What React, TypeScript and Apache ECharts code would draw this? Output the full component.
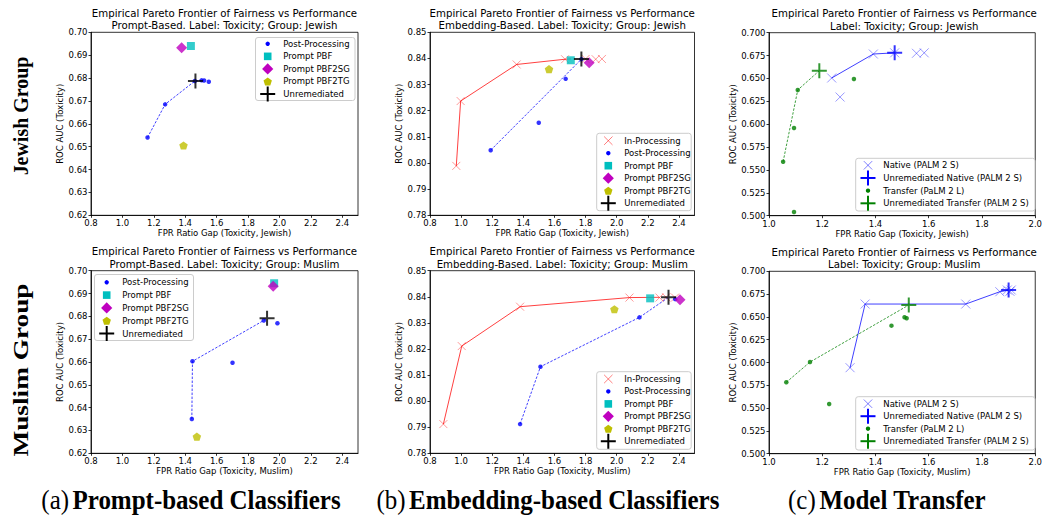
import React, { useEffect, useRef } from "react";
import * as echarts from "echarts";

// ---------------- Data ----------------
const xTicksAB = [0.8, 1.0, 1.2, 1.4, 1.6, 1.8, 2.0, 2.2, 2.4];
const xTicksC = [1.0, 1.2, 1.4, 1.6, 1.8, 2.0];
const yTicksA = [0.62, 0.63, 0.64, 0.65, 0.66, 0.67, 0.68, 0.69, 0.7];
const yTicksB = [0.78, 0.79, 0.8, 0.81, 0.82, 0.83, 0.84, 0.85];
const yTicksC = [0.5, 0.525, 0.55, 0.575, 0.6, 0.625, 0.65, 0.675, 0.7];

const titleLine1 = "Empirical Pareto Frontier of Fairness vs Performance";
const titleLine2 = [
  "Prompt-Based. Label: Toxicity; Group: Jewish",
  "Embedding-Based. Label: Toxicity; Group: Jewish",
  "Label: Toxicity; Group: Jewish",
  "Prompt-Based. Label: Toxicity; Group: Muslim",
  "Embedding-Based. Label: Toxicity; Group: Muslim",
  "Label: Toxicity; Group: Muslim",
];
const xNames = [
  "FPR Ratio Gap (Toxicity, Jewish)",
  "FPR Ratio Gap (Toxicity, Jewish)",
  "FPR Ratio Gap (Toxicity, Jewish)",
  "FPR Ratio Gap (Toxicity, Muslim)",
  "FPR Ratio Gap (Toxicity, Muslim)",
  "FPR Ratio Gap (Toxicity, Muslim)",
];
const yName = "ROC AUC (Toxicity)";
const rowLabels = ["Jewish Group", "Muslim Group"];
const captionTags = ["(a)", "(b)", "(c)"];
const captionTexts = ["Prompt-based Classifiers", "Embedding-based Classifiers", "Model Transfer"];

// (a) Prompt-based, Jewish
const promptJewPost = [[1.16, 0.654], [1.272, 0.6685], [1.461, 0.6787], [1.504, 0.679], [1.52, 0.6789], [1.55, 0.6784]];
const promptJewPostFrontier = [[1.16, 0.654], [1.272, 0.6685], [1.461, 0.6787], [1.504, 0.679]];
const promptJewPBF = [[1.436, 0.694]];
const promptJewPBF2SG = [[1.377, 0.6932]];
const promptJewPBF2TG = [[1.389, 0.6505]];
const promptJewUnrem = [[1.465, 0.6787]];

// (a) Prompt-based, Muslim
const promptMusPost = [[1.442, 0.635], [1.446, 0.6603], [1.701, 0.6597], [1.9, 0.6782], [1.987, 0.677]];
const promptMusPostFrontier = [[1.442, 0.635], [1.446, 0.6603], [1.9, 0.6782], [1.921, 0.6792]];
const promptMusPBF = [[1.966, 0.6945]];
const promptMusPBF2SG = [[1.96, 0.6932]];
const promptMusPBF2TG = [[1.474, 0.6273]];
const promptMusUnrem = [[1.921, 0.6792]];

// (b) Embedding-based, Jewish
const embJewIn = [[0.969, 0.7989], [0.997, 0.8237], [1.357, 0.8377], [1.668, 0.8397], [1.8, 0.8398], [1.865, 0.8397], [1.905, 0.8398]];
const embJewInFrontier = [[0.969, 0.7989], [0.997, 0.8237], [1.357, 0.8377], [1.668, 0.8397], [1.705, 0.8398]];
const embJewPost = [[1.19, 0.8049], [1.499, 0.8154], [1.672, 0.8322], [1.773, 0.8397]];
const embJewPostFrontier = [[1.19, 0.8049], [1.773, 0.8397]];
const embJewPBF = [[1.705, 0.8393]];
const embJewPBF2SG = [[1.823, 0.8384]];
const embJewPBF2TG = [[1.565, 0.8359]];
const embJewUnrem = [[1.773, 0.8398]];

// (b) Embedding-based, Muslim
const embMusIn = [[0.886, 0.7912], [1.004, 0.8211], [1.379, 0.8362], [2.082, 0.8397], [2.275, 0.8397], [2.318, 0.8398], [2.375, 0.8397]];
const embMusInFrontier = [[0.886, 0.7912], [1.004, 0.8211], [1.379, 0.8362], [2.082, 0.8397], [2.275, 0.8398]];
const embMusPost = [[1.379, 0.7912], [1.51, 0.8132], [2.146, 0.8321], [2.376, 0.8391]];
const embMusPostFrontier = [[1.379, 0.7912], [1.51, 0.8132], [2.146, 0.8321], [2.333, 0.8398]];
const embMusPBF = [[2.215, 0.8394]];
const embMusPBF2SG = [[2.407, 0.8389]];
const embMusPBF2TG = [[1.985, 0.8352]];
const embMusUnrem = [[2.333, 0.8398]];

// (c) Model transfer, Jewish
const transJewNative = [[1.2355, 0.6505], [1.267, 0.6297], [1.392, 0.6767], [1.472, 0.678], [1.554, 0.6775], [1.583, 0.678]];
const transJewNativeFrontier = [[1.2355, 0.6505], [1.392, 0.6767], [1.472, 0.678]];
const transJewTransfer = [[1.053, 0.559], [1.094, 0.5958], [1.108, 0.6374], [1.094, 0.504], [1.319, 0.6494]];
const transJewTransferFrontier = [[1.053, 0.559], [1.108, 0.6374], [1.189, 0.6585]];
const transJewUnremNative = [[1.472, 0.678]];
const transJewUnremTransfer = [[1.189, 0.6585]];

// (c) Model transfer, Muslim
const transMusNative = [[1.3045, 0.5943], [1.361, 0.6641], [1.739, 0.6641], [1.867, 0.6776], [1.895, 0.6795], [1.905, 0.678], [1.91, 0.6795]];
const transMusNativeFrontier = [[1.3045, 0.5943], [1.361, 0.6641], [1.739, 0.6641], [1.867, 0.6776], [1.9, 0.6793]];
const transMusTransfer = [[1.065, 0.5783], [1.154, 0.6005], [1.226, 0.5545], [1.46, 0.6404], [1.509, 0.6496], [1.517, 0.6485]];
const transMusTransferFrontier = [[1.065, 0.5783], [1.154, 0.6005], [1.525, 0.663]];
const transMusUnremNative = [[1.9, 0.6795]];
const transMusUnremTransfer = [[1.525, 0.663]];

// ---------------- Styling / layout ----------------
const FONT = '"DejaVu Sans", sans-serif';
const SERIF = '"Liberation Serif", "Times New Roman", serif';

const SYM_X = "path://M0,0L10,10M10,0L0,10";
const SYM_PLUS = "path://M5,0L5,10M0,5L10,5";
const SYM_DIAMOND = "path://M5,0L10,5L5,10L0,5Z";
const SYM_PENT = "path://M5,0L9.755,3.455L7.939,9.045L2.061,9.045L0.245,3.455Z";

const BLUE = "#0000ff";
const RED_A = "rgba(255,0,0,0.5)";
const BLUE_A = "rgba(0,0,255,0.5)";
const CYAN = "#00bfbf";
const MAGENTA = "#bf00bf";
const OLIVE = "#bfbf00";
const GREEN = "#008000";
const CLEAR = "rgba(0,0,0,0)";

const GRIDS = [
  { left: 91, top: 32.3, width: 267, height: 183 },
  { left: 430, top: 32.3, width: 264.5, height: 183 },
  { left: 769, top: 32.7, width: 270.5, height: 183 },
  { left: 91, top: 270.7, width: 267, height: 182.6 },
  { left: 430, top: 270.7, width: 264.5, height: 182.6 },
  { left: 769, top: 271.3, width: 270.5, height: 182.4 },
];

type Sty = { symbol: string; size: number; itemStyle: any; z?: number };
const S: Record<string, Sty> = {
  post: { symbol: "circle", size: 4.5, itemStyle: { color: BLUE } },
  inproc: { symbol: SYM_X, size: 8, itemStyle: { color: CLEAR, borderColor: RED_A, borderWidth: 1 } },
  pbf: { symbol: "rect", size: 8, itemStyle: { color: CYAN } },
  pbf2sg: { symbol: SYM_DIAMOND, size: 11, itemStyle: { color: MAGENTA } },
  pbf2tg: { symbol: SYM_PENT, size: 8.5, itemStyle: { color: OLIVE } },
  unrem: { symbol: SYM_PLUS, size: 15, itemStyle: { color: CLEAR, borderColor: "#000", borderWidth: 2 }, z: 6 },
  native: { symbol: SYM_X, size: 9, itemStyle: { color: CLEAR, borderColor: BLUE_A, borderWidth: 1 } },
  unremNative: { symbol: SYM_PLUS, size: 15, itemStyle: { color: CLEAR, borderColor: BLUE, borderWidth: 2 }, z: 6 },
  transfer: { symbol: "circle", size: 4.5, itemStyle: { color: GREEN } },
  unremTransfer: { symbol: SYM_PLUS, size: 15, itemStyle: { color: CLEAR, borderColor: GREEN, borderWidth: 2 }, z: 6 },
};

function scatter(gi: number, name: string, data: number[][], sty: Sty) {
  return {
    type: "scatter",
    name,
    xAxisIndex: gi,
    yAxisIndex: gi,
    data,
    symbol: sty.symbol,
    symbolSize: sty.size,
    symbolKeepAspect: true,
    itemStyle: sty.itemStyle,
    z: sty.z ?? 4,
    silent: true,
  };
}
function frontier(gi: number, data: number[][], color: string, dashed: boolean) {
  return {
    type: "line",
    xAxisIndex: gi,
    yAxisIndex: gi,
    data,
    symbol: "none",
    lineStyle: { color, width: 1, type: dashed ? [2.5, 1.5] : "solid" },
    z: 3,
    silent: true,
  };
}

function xAxis(gi: number, min: number, max: number, ticks: number[]) {
  return {
    type: "value",
    gridIndex: gi,
    min,
    max,
    name: xNames[gi],
    nameLocation: "middle",
    nameGap: 11.5,
    nameTextStyle: { fontFamily: FONT, fontSize: 8.5, color: "#000" },
    axisLine: { show: true, onZero: false, lineStyle: { color: "#000", width: 0.8 } },
    axisTick: { show: true, inside: false, length: 2.5, customValues: ticks, lineStyle: { color: "#000", width: 0.8 } },
    axisLabel: { fontFamily: FONT, fontSize: 8.5, color: "#000", margin: 3.5, customValues: ticks, formatter: (v: number) => v.toFixed(1) },
    splitLine: { show: false },
  };
}
function yAxis(gi: number, min: number, max: number, ticks: number[], dec: number, gap: number) {
  return {
    type: "value",
    gridIndex: gi,
    min,
    max,
    name: yName,
    nameLocation: "middle",
    nameGap: gap,
    nameTextStyle: { fontFamily: FONT, fontSize: 8.5, color: "#000" },
    axisLine: { show: true, onZero: false, lineStyle: { color: "#000", width: 0.8 } },
    axisTick: { show: true, inside: false, length: 2.5, customValues: ticks, lineStyle: { color: "#000", width: 0.8 } },
    axisLabel: { fontFamily: FONT, fontSize: 8.5, color: "#000", margin: 3.5, customValues: ticks, formatter: (v: number) => v.toFixed(dec) },
    splitLine: { show: false },
  };
}

// ---------------- Graphic helpers (titles, legends, captions) ----------------
function txt(x: number, y: number, text: string, font: string, align = "left", extra: any = {}) {
  return {
    type: "text",
    x,
    y,
    z: 100,
    silent: true,
    ...extra,
    style: { text, font, fill: "#000", textAlign: align, textVerticalAlign: "middle", align, verticalAlign: "middle" },
  };
}

function marker(kind: string, cx: number, cy: number): any[] {
  const z = 101;
  switch (kind) {
    case "post":
      return [{ type: "circle", z, silent: true, shape: { cx, cy, r: 2.2 }, style: { fill: BLUE } }];
    case "transfer":
      return [{ type: "circle", z, silent: true, shape: { cx, cy, r: 2.2 }, style: { fill: GREEN } }];
    case "pbf":
      return [{ type: "rect", z, silent: true, shape: { x: cx - 3.8, y: cy - 3.8, width: 7.6, height: 7.6 }, style: { fill: CYAN } }];
    case "pbf2sg":
      return [{ type: "polygon", z, silent: true, shape: { points: [[cx, cy - 5.6], [cx + 5.6, cy], [cx, cy + 5.6], [cx - 5.6, cy]] }, style: { fill: MAGENTA } }];
    case "pbf2tg": {
      const pts: number[][] = [];
      for (let k = 0; k < 5; k++) {
        const a = -Math.PI / 2 + (k * 2 * Math.PI) / 5;
        pts.push([cx + 4.4 * Math.cos(a), cy + 0.4 + 4.4 * Math.sin(a)]);
      }
      return [{ type: "polygon", z, silent: true, shape: { points: pts }, style: { fill: OLIVE } }];
    }
    case "inproc":
    case "native": {
      const c = kind === "inproc" ? RED_A : BLUE_A;
      const h = 4.2;
      return [
        { type: "line", z, silent: true, shape: { x1: cx - h, y1: cy - h, x2: cx + h, y2: cy + h }, style: { stroke: c, lineWidth: 1 } },
        { type: "line", z, silent: true, shape: { x1: cx - h, y1: cy + h, x2: cx + h, y2: cy - h }, style: { stroke: c, lineWidth: 1 } },
      ];
    }
    default: {
      const c = kind === "unremNative" ? BLUE : kind === "unremTransfer" ? GREEN : "#000";
      const h = 7.5;
      return [
        { type: "line", z, silent: true, shape: { x1: cx - h, y1: cy, x2: cx + h, y2: cy }, style: { stroke: c, lineWidth: 2 } },
        { type: "line", z, silent: true, shape: { x1: cx, y1: cy - h, x2: cx, y2: cy + h }, style: { stroke: c, lineWidth: 2 } },
      ];
    }
  }
}

function legendBox(x: number, y: number, w: number, h: number, y0: number, step: number, mx: number, tx: number, items: [string, string][]) {
  const els: any[] = [
    {
      type: "rect",
      z: 99,
      silent: true,
      shape: { x, y, width: w, height: h, r: 2.5 },
      style: { fill: "rgba(255,255,255,0.8)", stroke: "#cccccc", lineWidth: 1 },
    },
  ];
  items.forEach(([kind, label], i) => {
    const cy = y0 + i * step;
    els.push(...marker(kind, mx, cy));
    els.push(txt(tx, cy, label, `8.5px ${FONT}`));
  });
  return els;
}

const legendPrompt: [string, string][] = [
  ["post", "Post-Processing"],
  ["pbf", "Prompt PBF"],
  ["pbf2sg", "Prompt PBF2SG"],
  ["pbf2tg", "Prompt PBF2TG"],
  ["unrem", "Unremediated"],
];
const legendEmb: [string, string][] = [["inproc", "In-Processing"], ...legendPrompt];
const legendTrans: [string, string][] = [
  ["native", "Native (PALM 2 S)"],
  ["unremNative", "Unremediated Native (PALM 2 S)"],
  ["transfer", "Transfer (PaLM 2 L)"],
  ["unremTransfer", "Unremediated Transfer (PALM 2 S)"],
];

function buildOption() {
  const series: any[] = [
    // (a) Jewish
    frontier(0, promptJewPostFrontier, "rgba(0,0,255,0.75)", true),
    scatter(0, "Post-Processing", promptJewPost, S.post),
    scatter(0, "Prompt PBF", promptJewPBF, S.pbf),
    scatter(0, "Prompt PBF2SG", promptJewPBF2SG, S.pbf2sg),
    scatter(0, "Prompt PBF2TG", promptJewPBF2TG, S.pbf2tg),
    scatter(0, "Unremediated", promptJewUnrem, S.unrem),
    // (b) Jewish
    frontier(1, embJewInFrontier, "rgba(255,0,0,0.75)", false),
    frontier(1, embJewPostFrontier, "rgba(0,0,255,0.75)", true),
    scatter(1, "In-Processing", embJewIn, S.inproc),
    scatter(1, "Post-Processing", embJewPost, S.post),
    scatter(1, "Prompt PBF", embJewPBF, S.pbf),
    scatter(1, "Prompt PBF2SG", embJewPBF2SG, S.pbf2sg),
    scatter(1, "Prompt PBF2TG", embJewPBF2TG, S.pbf2tg),
    scatter(1, "Unremediated", embJewUnrem, S.unrem),
    // (c) Jewish
    frontier(2, transJewNativeFrontier, "rgba(0,0,255,0.75)", false),
    frontier(2, transJewTransferFrontier, "rgba(0,128,0,0.75)", true),
    scatter(2, "Native (PALM 2 S)", transJewNative, S.native),
    scatter(2, "Transfer (PaLM 2 L)", transJewTransfer, S.transfer),
    scatter(2, "Unremediated Native (PALM 2 S)", transJewUnremNative, S.unremNative),
    scatter(2, "Unremediated Transfer (PALM 2 S)", transJewUnremTransfer, S.unremTransfer),
    // (a) Muslim
    frontier(3, promptMusPostFrontier, "rgba(0,0,255,0.75)", true),
    scatter(3, "Post-Processing", promptMusPost, S.post),
    scatter(3, "Prompt PBF", promptMusPBF, S.pbf),
    scatter(3, "Prompt PBF2SG", promptMusPBF2SG, S.pbf2sg),
    scatter(3, "Prompt PBF2TG", promptMusPBF2TG, S.pbf2tg),
    scatter(3, "Unremediated", promptMusUnrem, S.unrem),
    // (b) Muslim
    frontier(4, embMusInFrontier, "rgba(255,0,0,0.75)", false),
    frontier(4, embMusPostFrontier, "rgba(0,0,255,0.75)", true),
    scatter(4, "In-Processing", embMusIn, S.inproc),
    scatter(4, "Post-Processing", embMusPost, S.post),
    scatter(4, "Prompt PBF", embMusPBF, S.pbf),
    scatter(4, "Prompt PBF2SG", embMusPBF2SG, S.pbf2sg),
    scatter(4, "Prompt PBF2TG", embMusPBF2TG, S.pbf2tg),
    scatter(4, "Unremediated", embMusUnrem, S.unrem),
    // (c) Muslim
    frontier(5, transMusNativeFrontier, "rgba(0,0,255,0.75)", false),
    frontier(5, transMusTransferFrontier, "rgba(0,128,0,0.75)", true),
    scatter(5, "Native (PALM 2 S)", transMusNative, S.native),
    scatter(5, "Transfer (PaLM 2 L)", transMusTransfer, S.transfer),
    scatter(5, "Unremediated Native (PALM 2 S)", transMusUnremNative, S.unremNative),
    scatter(5, "Unremediated Transfer (PALM 2 S)", transMusUnremTransfer, S.unremTransfer),
  ];

  const graphic: any[] = [];
  GRIDS.forEach((g, i) => {
    const cx = g.left + g.width / 2;
    graphic.push(txt(cx, g.top - 19.2, titleLine1, `10.2px ${FONT}`, "center"));
    graphic.push(txt(cx, g.top - 6.4, titleLine2[i], `10.2px ${FONT}`, "center"));
  });
  graphic.push(...legendBox(255.5, 37.5, 99.5, 63, 43.8, 12.55, 267.7, 283.3, legendPrompt));
  graphic.push(...legendBox(94.5, 274.5, 99, 66, 282.3, 12.8, 106.7, 122.3, legendPrompt));
  graphic.push(...legendBox(596.7, 133.3, 94.5, 77.4, 140.7, 12.5, 608.3, 624.3, legendEmb));
  graphic.push(...legendBox(596.7, 371.7, 94.5, 77.6, 379, 12.45, 608.3, 624.3, legendEmb));
  graphic.push(...legendBox(855.7, 158.3, 179.3, 52.7, 165.3, 12.67, 868, 883.3, legendTrans));
  graphic.push(...legendBox(855.7, 396.7, 179.3, 53.3, 403.7, 12.5, 868, 883.3, legendTrans));

  graphic.push(txt(21, 116, rowLabels[0], `bold 21px ${SERIF}`, "center", { rotation: Math.PI / 2, scaleX: 0.95 }));
  graphic.push(txt(21, 370, rowLabels[1], `bold 21px ${SERIF}`, "center", { rotation: Math.PI / 2, scaleX: 1.3 }));

  const capX = [191, 548, 887];
  capX.forEach((x, i) => {
    graphic.push({
      type: "text",
      x,
      y: 500,
      z: 100,
      silent: true,
      scaleY: 1.1,
      style: {
        text: `{a|${captionTags[i]}} {b|${captionTexts[i]}}`,
        textAlign: "center",
        textVerticalAlign: "middle",
        align: "center",
        verticalAlign: "middle",
        fill: "#000",
        rich: {
          a: { font: `25px ${SERIF}`, fill: "#000" },
          b: { font: `bold 25px ${SERIF}`, fill: "#000" },
        },
      },
    });
  });

  return {
    animation: false,
    backgroundColor: "#ffffff",
    grid: GRIDS.map((g) => ({ ...g, show: true, borderColor: "#000", borderWidth: 0.8, backgroundColor: "transparent" })),
    xAxis: [
      xAxis(0, 0.8, 2.5, xTicksAB),
      xAxis(1, 0.8, 2.5, xTicksAB),
      xAxis(2, 1.0, 2.0, xTicksC),
      xAxis(3, 0.8, 2.5, xTicksAB),
      xAxis(4, 0.8, 2.5, xTicksAB),
      xAxis(5, 1.0, 2.0, xTicksC),
    ],
    yAxis: [
      yAxis(0, 0.62, 0.7, yTicksA, 2, 25),
      yAxis(1, 0.78, 0.85, yTicksB, 2, 24),
      yAxis(2, 0.5, 0.7, yTicksC, 3, 27.5),
      yAxis(3, 0.62, 0.7, yTicksA, 2, 25),
      yAxis(4, 0.78, 0.85, yTicksB, 2, 24),
      yAxis(5, 0.5, 0.7, yTicksC, 3, 27.5),
    ],
    series,
    graphic,
  };
}

export default function App() {
  const ref = useRef<HTMLDivElement>(null);
  useEffect(() => {
    if (!ref.current) return;
    const chart = echarts.init(ref.current, undefined, { renderer: "svg" });
    chart.setOption(buildOption() as any);
    return () => chart.dispose();
  }, []);
  return (
    <div
      ref={ref}
      style={{ position: "fixed", left: 0, top: 0, width: 1045, height: 516, background: "#fff" }}
    />
  );
}
